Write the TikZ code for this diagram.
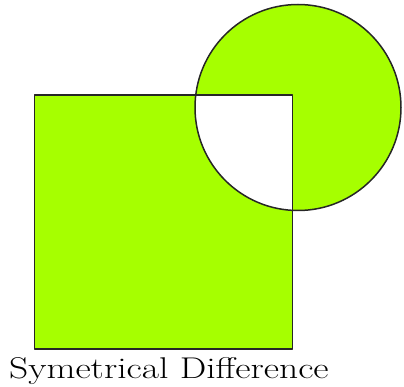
\documentclass[tikz,border=0pt]{standalone}
\usepackage{graphicx}
\definecolor{limefill}{RGB}{166,255,0}
\begin{document}
\begin{tikzpicture}[x=1pt,y=1pt,
  outline/.style={draw=black!85,line width=1.5pt,line join=round}]
\useasboundingbox (0,0) rectangle (404,386);
\fill[limefill,even odd rule] (34.5,37) rectangle (292.5,291) (298,278.5) circle[radius=103];
\draw[outline] (34.5,37) rectangle (292.5,291);
\draw[outline] (298,278.5) circle[radius=103];
\node[anchor=base west,inner sep=0pt] (label) at (9,7.7)
  {\scalebox{1.25}[1]{\fontsize{30}{32}\selectfont Symetrical Difference}};
\end{tikzpicture}
\end{document}
